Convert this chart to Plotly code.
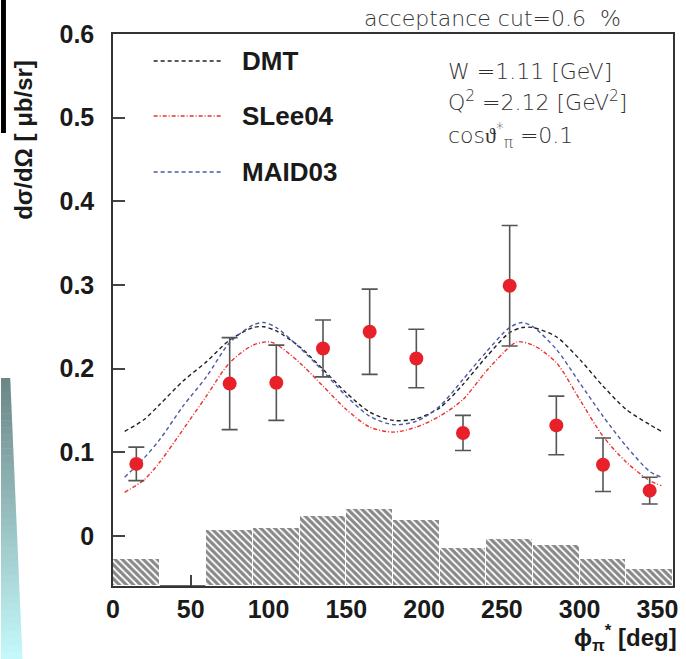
import numpy as np
import plotly.graph_objects as go

# --- measured cross sections (phi bins, value, stat. error) ---
phi_data = [15, 75, 105, 135, 165, 195, 225, 255, 285, 315, 345]
xsec = [0.086, 0.182, 0.183, 0.224, 0.244, 0.212, 0.123, 0.299, 0.132, 0.085, 0.054]
xsec_err = [0.020, 0.055, 0.045, 0.034, 0.051, 0.035, 0.021, 0.072, 0.035, 0.032, 0.016]

# --- systematic-error histogram (30 deg bins, top edge of each bar) ---
sys_centers = [15, 45, 75, 105, 135, 165, 195, 225, 255, 285, 315, 345]
sys_top = [-0.028, -0.06, 0.007, 0.009, 0.024, 0.032, 0.019, -0.014, -0.004, -0.011, -0.028, -0.040]
sys_floor = -0.06

# --- model curves ---
dmt_phi = [7.5, 20, 30, 45, 60, 75, 90, 97, 105, 120, 135, 150, 165, 180,
           195, 210, 225, 240, 255, 263, 270, 285, 300, 315, 330, 345, 352.5]
dmt_val = [0.125, 0.139, 0.157, 0.185, 0.208, 0.234, 0.249, 0.250, 0.245, 0.226, 0.199, 0.171, 0.148, 0.138,
           0.140, 0.153, 0.181, 0.214, 0.243, 0.249, 0.249, 0.238, 0.211, 0.179, 0.151, 0.133, 0.125]

slee_phi = [7.5, 20, 30, 45, 60, 75, 90, 100, 105, 120, 135, 150, 165, 180,
            195, 210, 225, 240, 255, 260, 270, 285, 300, 315, 330, 345, 352.5]
slee_val = [0.052, 0.067, 0.088, 0.127, 0.167, 0.207, 0.228, 0.232, 0.229, 0.207, 0.179, 0.151, 0.130, 0.124,
            0.130, 0.143, 0.163, 0.197, 0.226, 0.232, 0.228, 0.207, 0.163, 0.119, 0.088, 0.066, 0.060]

maid_phi = [7.5, 20, 30, 45, 60, 75, 90, 97, 105, 120, 135, 150, 165, 180,
            195, 210, 225, 240, 255, 263, 270, 285, 300, 315, 330, 345, 352.5]
maid_val = [0.070, 0.093, 0.115, 0.155, 0.190, 0.231, 0.252, 0.255, 0.249, 0.225, 0.197, 0.167, 0.143, 0.133,
            0.137, 0.155, 0.187, 0.220, 0.249, 0.255, 0.250, 0.223, 0.183, 0.143, 0.107, 0.077, 0.070]

x_ticks = [0, 50, 100, 150, 200, 250, 300, 350]
y_ticks = [0, 0.1, 0.2, 0.3, 0.4, 0.5, 0.6]
y_tick_text = ["0", "0.1", "0.2", "0.3", "0.4", "0.5", "0.6"]

W, H = 686, 659
ML, MR, MT, MB = 113, 8, 34, 73
PW, PH = W - ML - MR, H - MT - MB


def px(xpix):
    return (xpix - ML) / PW


def py(ypix):
    return (H - MB - ypix) / PH


fig = go.Figure()

# hatched systematic bars; empty bins get no outline so the frame stays visible
bar_heights = [t - sys_floor for t in sys_top]
outline = ["white" if h > 0 else "rgba(0,0,0,0)" for h in bar_heights]
fig.add_trace(go.Bar(
    x=sys_centers,
    y=bar_heights,
    base=sys_floor,
    width=30,
    marker=dict(
        color="white",
        line=dict(color=outline, width=1.0),
        pattern=dict(shape="\\", fgcolor="#111111", bgcolor="white", size=5, solidity=0.65),
    ),
    showlegend=False,
    hoverinfo="skip",
))

curve_style = [
    (dmt_phi, dmt_val, "#222222", "4px,3px"),
    (maid_phi, maid_val, "#4a5aa8", "4px,3px"),
    (slee_phi, slee_val, "#ee3030", "4px,2px,1px,2px"),
]
for xs, ys, col, dash in curve_style:
    fig.add_trace(go.Scatter(
        x=xs, y=ys, mode="lines",
        line=dict(color=col, width=1.4, dash=dash, shape="spline", smoothing=0.8),
        showlegend=False, hoverinfo="skip",
    ))

# data points
fig.add_trace(go.Scatter(
    x=phi_data, y=xsec, mode="markers",
    marker=dict(color="#e8202a", size=14, line=dict(width=0)),
    error_y=dict(type="data", array=xsec_err, color="#555555", thickness=1.6, width=8),
    showlegend=False,
))

shapes = []
annotations = []

# frame bottom edge and x ticks, kept underneath the hatched bars
shapes.append(dict(type="line", xref="x domain", yref="y domain", x0=0, x1=1, y0=0, y1=0,
                   line=dict(color="#333333", width=1.6), layer="below"))
for t in x_ticks:
    shapes.append(dict(type="line", xref="x", yref="y domain", x0=t, x1=t, y0=0, y1=11 / PH,
                       line=dict(color="#444444", width=1.5), layer="below"))

# hand-drawn legend
legend_items = [
    ("DMT", "#222222", "4px,3px", 61),
    ("SLee04", "#ee3030", "4px,2px,1px,2px", 116),
    ("MAID03", "#4a5aa8", "4px,3px", 172),
]
for label, col, dash, ypix in legend_items:
    shapes.append(dict(type="line", xref="paper", yref="paper",
                       x0=px(154), x1=px(223), y0=py(ypix), y1=py(ypix),
                       line=dict(color=col, width=1.4, dash=dash)))
    annotations.append(dict(xref="paper", yref="paper", x=px(241), y=py(ypix),
                            xanchor="left", yanchor="middle", showarrow=False,
                            text=label,
                            font=dict(family="Liberation Sans", size=26, color="#1a1a1a", weight="bold")))

thin = dict(family="DejaVu Sans", size=22, color="#333333", weight=200)
annotations.append(dict(xref="paper", yref="paper", x=px(496), y=py(19),
                        xanchor="center", yanchor="middle", showarrow=False,
                        text="acceptance cut=0.6  %", font=thin))
for txt, ypix in [("W =1.11 [GeV]", 72),
                  ("Q<sup>2</sup> =2.12 [GeV<sup>2</sup>]", 101),
                  ("cosϑ<sup>*</sup><sub>π</sub> =0.1", 136)]:
    annotations.append(dict(xref="paper", yref="paper", x=px(449), y=py(ypix),
                            xanchor="left", yanchor="middle", showarrow=False,
                            text=txt, font=thin))

# axis titles
annotations.append(dict(xref="paper", yref="paper", x=px(22), y=py(140),
                        xanchor="center", yanchor="middle", showarrow=False, textangle=-90,
                        text="dσ/dΩ [ μb/sr]",
                        font=dict(family="Liberation Sans", size=24, color="#1a1a1a", weight="bold")))
annotations.append(dict(xref="paper", yref="paper", x=px(684), y=py(638),
                        xanchor="right", yanchor="middle", showarrow=False,
                        text="ϕ<sub>π</sub><sup>*</sup> [deg]",
                        font=dict(family="Liberation Sans", size=24, color="#1a1a1a", weight="bold")))

# dark bar at the top-left edge
shapes.append(dict(type="rect", xref="paper", yref="paper",
                   x0=px(0), x1=px(5), y0=py(133), y1=py(0),
                   fillcolor="black", line=dict(width=0), layer="above"))

# teal gradient sliver on the left edge
top_y, bot_y = 378, 659
c_top = np.array([0x6c, 0x86, 0x86])
c_bot = np.array([0xc6, 0xfa, 0xfc])
n = 40
for i in range(n):
    t0, t1 = i / n, (i + 1) / n
    y0p, y1p = top_y + (bot_y - top_y) * t0, top_y + (bot_y - top_y) * t1
    xr0, xr1 = 9.3 + (21.7 - 9.3) * t0, 9.3 + (21.7 - 9.3) * t1
    c = (c_top + (c_bot - c_top) * (t0 + t1) / 2).astype(int)
    col = "rgb(%d,%d,%d)" % tuple(c)
    y1e = min(y1p + 0.6, bot_y)
    path = "M %f,%f L %f,%f L %f,%f L %f,%f Z" % (
        px(0), py(y0p), px(xr0), py(y0p), px(xr1), py(y1e), px(0), py(y1e))
    shapes.append(dict(type="path", xref="paper", yref="paper", path=path,
                       fillcolor=col, line=dict(width=0), layer="above"))

tickfont = dict(family="Liberation Sans", size=25, color="#1a1a1a", weight="bold")

fig.update_layout(
    width=W, height=H, autosize=False,
    margin=dict(l=ML, r=MR, t=MT, b=MB, pad=0),
    paper_bgcolor="white", plot_bgcolor="white",
    bargap=0,
    shapes=shapes, annotations=annotations,
    xaxis=dict(range=[0, 360], tickvals=x_ticks, ticks="inside", ticklen=11, tickwidth=1.5,
               tickcolor="#444444", showline=True, linecolor="#333333", linewidth=1.6, mirror=True,
               showgrid=False, zeroline=False, tickfont=tickfont, layer="below traces"),
    yaxis=dict(range=[-0.06, 0.6], tickvals=y_ticks, ticktext=y_tick_text, ticks="inside",
               ticklen=12, tickwidth=1.5, tickcolor="#444444", showline=True, linecolor="#333333",
               linewidth=1.5, mirror=True, showgrid=False, zeroline=False, tickfont=tickfont,
               layer="above traces", ticklabelstandoff=12),
)

fig.write_html("out.html")
